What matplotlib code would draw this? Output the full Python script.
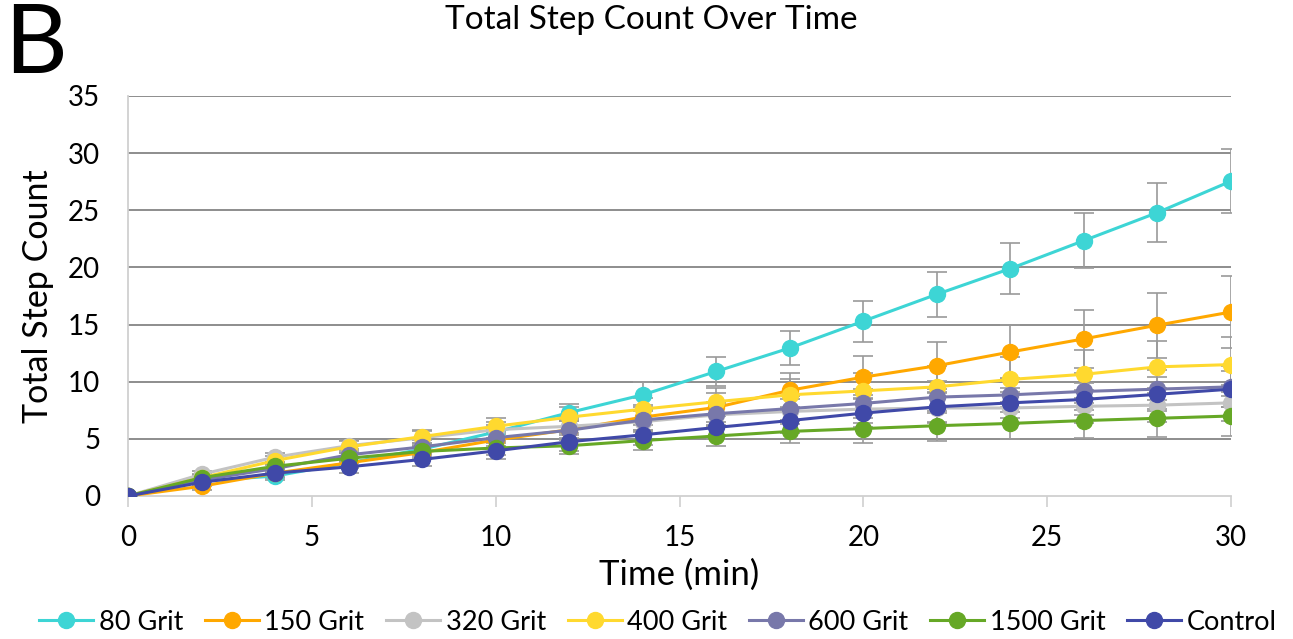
import numpy as np
import matplotlib
matplotlib.use("Agg")
import matplotlib.pyplot as plt

plt.rcParams['font.family'] = ['Lato', 'DejaVu Sans']

# data
time_min = [0, 2, 4, 6, 8, 10, 12, 14, 16, 18, 20, 22, 24, 26, 28, 30]
labels = ["80 Grit", "150 Grit", "320 Grit", "400 Grit", "600 Grit", "1500 Grit", "Control"]
colors = ["#3DD5D5", "#FFA800", "#C3C3C3", "#FFD92F", "#7878AA", "#66A826", "#4049A8"]

grit80 = [0, 1.3, 1.75, 2.9, 4.1, 5.6, 7.3, 8.85, 10.9, 12.95, 15.3, 17.65, 19.9, 22.35, 24.8, 27.55]
grit150 = [0, 0.85, 2.0, 2.9, 3.8, 4.9, 5.8, 6.9, 7.75, 9.25, 10.4, 11.4, 12.6, 13.75, 14.95, 16.1]
grit320 = [0, 1.9, 3.4, 4.4, 5.1, 5.8, 6.1, 6.5, 7.1, 7.4, 7.6, 7.7, 7.7, 7.85, 7.95, 8.15]
grit400 = [0, 1.6, 3.1, 4.3, 5.2, 6.1, 6.9, 7.6, 8.25, 8.85, 9.2, 9.55, 10.2, 10.65, 11.3, 11.5]
grit600 = [0, 1.4, 2.4, 3.6, 4.3, 5.1, 5.75, 6.65, 7.2, 7.65, 8.1, 8.65, 8.85, 9.15, 9.35, 9.55]
grit1500 = [0, 1.6, 2.6, 3.3, 3.9, 4.2, 4.4, 4.85, 5.25, 5.65, 5.9, 6.15, 6.35, 6.6, 6.8, 7.0]
control = [0, 1.2, 2.0, 2.55, 3.2, 3.95, 4.75, 5.35, 6.0, 6.6, 7.25, 7.8, 8.15, 8.45, 8.9, 9.35]

err80 = [0, 0.3, 0.35, 0.4, 0.5, 0.6, 0.75, 1.1, 1.3, 1.45, 1.8, 1.95, 2.2, 2.4, 2.55, 2.8]
err150 = [0, 0.3, 0.35, 0.45, 0.55, 0.7, 0.9, 1.1, 1.3, 1.5, 1.85, 2.05, 2.35, 2.55, 2.85, 3.15]
err320 = [0, 0.3, 0.4, 0.5, 0.6, 0.7, 0.8, 0.9, 1.0, 1.1, 1.2, 1.3, 1.4, 1.45, 1.5, 1.6]
err400 = [0, 0.3, 0.4, 0.5, 0.6, 0.7, 0.9, 1.0, 1.2, 1.4, 1.6, 1.8, 2.0, 2.1, 2.3, 2.4]
err600 = [0, 0.3, 0.4, 0.5, 0.6, 0.7, 0.8, 0.9, 1.0, 1.1, 1.3, 1.4, 1.5, 1.6, 1.7, 1.8]
err1500 = [0, 0.25, 0.35, 0.45, 0.5, 0.6, 0.7, 0.8, 0.9, 1.0, 1.3, 1.3, 1.4, 1.5, 1.6, 1.75]
errctl = [0, 0.3, 0.4, 0.5, 0.6, 0.7, 0.8, 0.9, 1.0, 1.1, 1.2, 1.3, 1.3, 1.4, 1.5, 1.6]

series = [grit80, grit150, grit320, grit400, grit600, grit1500, control]
errors = [err80, err150, err320, err400, err600, err1500, errctl]

fig = plt.figure(figsize=(12.93, 6.39), dpi=100)
ax = fig.add_axes([128/1293, 1 - 496/639, (1231 - 128)/1293, (496 - 96)/639])

for y in range(5, 36, 5):
    ax.axhline(y, color="#858585", lw=1.3, zorder=1)

for k in range(len(series)):
    ax.errorbar(time_min, series[k], yerr=errors[k], fmt="none", ecolor="#9A9A9A",
                elinewidth=1.2, capsize=7, capthick=1.2, zorder=2)
for k in range(len(series)):
    ax.plot(time_min, series[k], color=colors[k], lw=2.2, marker="o", markersize=11.5,
            label=labels[k], zorder=3 + k)

ax.set_xlim(0, 30)
ax.set_ylim(0, 35)
ax.set_xticks(range(0, 31, 5))
ax.set_yticks(range(0, 36, 5))
for side in ["top", "right"]:
    ax.spines[side].set_visible(False)
for side in ["left", "bottom"]:
    ax.spines[side].set_color("#D0D0D0")
    ax.spines[side].set_linewidth(1.3)
ax.tick_params(axis="x", length=8, width=1.2, color="#D0D0D0", labelsize=20, pad=13)
ax.tick_params(axis="y", length=0, labelsize=20, pad=20)
ax.set_xlabel("Time (min)", fontsize=25, labelpad=5)
ax.set_ylabel("Total Step Count", fontsize=24.5, labelpad=10)
ax.set_clip_on(False)

fig.text(651/1293, 1 - 20/639, "Total Step Count Over Time", ha="center", va="center", fontsize=24)
fig.text(4/1293, 1 - 46/639, "B", ha="left", va="center", fontsize=70)

fig.legend(loc="center", bbox_to_anchor=(658/1293, 1 - 622/639), ncol=7, frameon=False,
           fontsize=19.5, handlelength=2.0, handletextpad=0.2, columnspacing=0.8,
           markerscale=1.0)

fig.savefig("out.png", dpi=100)
